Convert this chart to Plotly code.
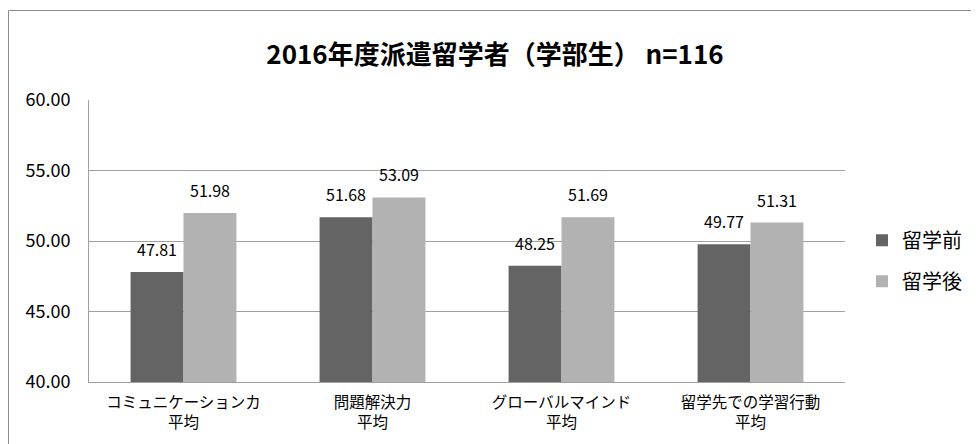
import plotly.graph_objects as go

categories = ["コミュニケーションカ<br>平均", "問題解決力<br>平均", "グローバルマインド<br>平均", "留学先での学習行動<br>平均"]
before = [47.81, 51.68, 48.25, 49.77]
after = [51.98, 53.09, 51.69, 51.31]
series_names = ["留学前", "留学後"]
tick_vals = [40, 45, 50, 55, 60]
tick_text = ["40.00", "45.00", "50.00", "55.00", "60.00"]

colors = ["#646464", "#b2b2b2"]
font_family = "Noto Sans CJK JP"

# page offset of 8px (default body margin) compensated
W, H = 971, 436
ML, MT, MR, MB = 81, 92, 134, 62
PW, PH = W - ML - MR, H - MT - MB

fig = go.Figure()
for name, vals, col in zip(series_names, [before, after], colors):
    fig.add_trace(go.Bar(x=categories, y=vals, name=name, marker=dict(color=col, line=dict(width=0)),
                         legendgroup=name))

annotations = []
for vals, shift in zip([before, after], [-26.5, 26.5]):
    for c, v in zip(categories, vals):
        annotations.append(dict(x=c, y=v, xref="x", yref="y", text=f"{v:.2f}", showarrow=False,
                                xshift=shift, yshift=9, yanchor="bottom",
                                font=dict(size=16, color="#000", family=font_family)))

fig.update_layout(
    width=W, height=H,
    margin=dict(l=ML, r=MR, t=MT, b=MB, autoexpand=False),
    paper_bgcolor="white", plot_bgcolor="white",
    barmode="group", bargap=0.44, bargroupgap=0,
    title=dict(text="<b>2016年度派遣留学者（学部生） n=116</b>", x=487 / W, xref="container", xanchor="center",
               y=1 - 47 / H, yref="container", yanchor="middle",
               font=dict(size=26, color="#000", family=font_family)),
    font=dict(family=font_family, color="#000"),
    legend=dict(x=(854 - ML) / PW, y=0.43, xanchor="left", yanchor="middle", tracegroupgap=12,
                font=dict(size=20, color="#000", family=font_family), bgcolor="rgba(0,0,0,0)"),
    annotations=annotations,
    shapes=[dict(type="rect", xref="paper", yref="paper", x0=(0.5 - ML) / PW, x1=2,
                 y0=-1, y1=(PH + MT - 2.5) / PH, line=dict(color="#8c8c8c", width=1), layer="below")],
)
fig.update_yaxes(range=[40, 60], tickvals=tick_vals, ticktext=tick_text, showgrid=True,
                 gridcolor="#a0a0a0", gridwidth=1, showline=True, linecolor="#a0a0a0", linewidth=1,
                 zeroline=False, ticks="", ticklabelstandoff=14,
                 tickfont=dict(size=18, color="#000", family=font_family))
fig.update_xaxes(showline=True, linecolor="#a0a0a0", linewidth=1, ticks="", ticklabelstandoff=6,
                 tickfont=dict(size=15.5, color="#000", family=font_family))

fig.write_html("out.html")
